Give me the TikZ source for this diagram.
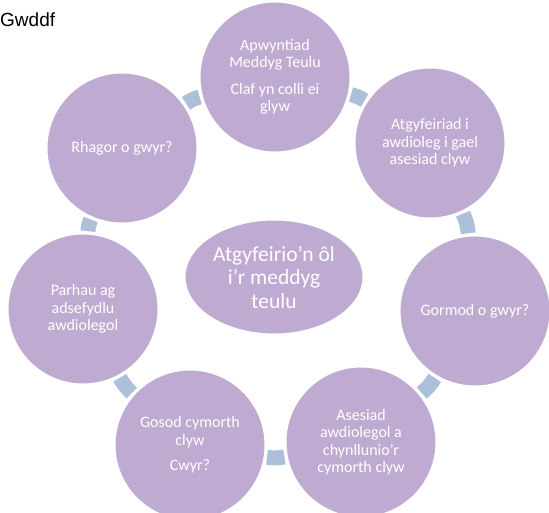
\documentclass[tikz,border=0pt]{standalone}
\usepackage{fontspec}
\setmainfont{Carlito}
\newfontfamily\headfont{Liberation Sans}
\usetikzlibrary{shapes, backgrounds}
\definecolor{lilac}{RGB}{191,170,209}
\definecolor{paleblue}{RGB}{173,192,218}
\begin{document}
\begin{tikzpicture}[x=1pt, y=-1pt,
			stage/.style={circle, fill=lilac, draw=white, line width=1pt, minimum size=150pt, inner sep=0pt, text=white, font=\fontsize{16}{17.5}\selectfont},
			link/.style={paleblue, line width=15pt, shorten <=2.5pt, shorten >=2.5pt},
			every text node part/.style={align=center}]
			\useasboundingbox (0,0) rectangle (549,512);
			\node[anchor=base west, inner sep=0pt, font=\headfont\fontsize{19}{22}\selectfont](node0) at (0,26) {Gwddf};
			
			\node[stage](node1) at (275,77) {Apwyntiad \\ Meddyg Teulu \\[9pt] Claf yn colli ei \\ glyw};
			\node[stage](node2) at (430,143) {Atgyfeiriad i \\ awdioleg i gael \\ asesiad clyw};
			\node[stage](node3) at (475,311) {Gormod o gwyr?};
			\node[stage](node4) at (361,442) {Asesiad \\ awdiolegol a \\ chynllunio’r \\ cymorth clyw};
			\node[stage](node5) at (190,445) {Gosod cymorth \\ clyw \\[8pt] Cwyr?};
			\node[stage](node6) at (83,309) {Parhau ag \\ adsefydlu \\ awdiolegol};
			\node[stage](node7) at (122,148) {Rhagor o gwyr?};
			
			\node[stage, ellipse, minimum width=178pt, minimum height=114pt, font=\fontsize{21.5}{23.5}\selectfont](node8) at (274,277) {Atgyfeirio’n ôl \\ i’r meddyg \\ teulu};
			
			\begin{scope}[on background layer]
			\draw[link] (node1) to[bend left=10] (node2);
			\draw[link] (node2) to[bend left=10] (node3);
			\draw[link] (node3) to[bend left=10] (node4);
			\draw[link] (node4) to[bend left=10] (node5);
			\draw[link] (node5) to[bend left=10] (node6);
			\draw[link] (node6) to[bend left=10] (node7);
			\draw[link] (node7) to[bend left=10] (node1);
			\end{scope}
			\end{tikzpicture}
\end{document}
